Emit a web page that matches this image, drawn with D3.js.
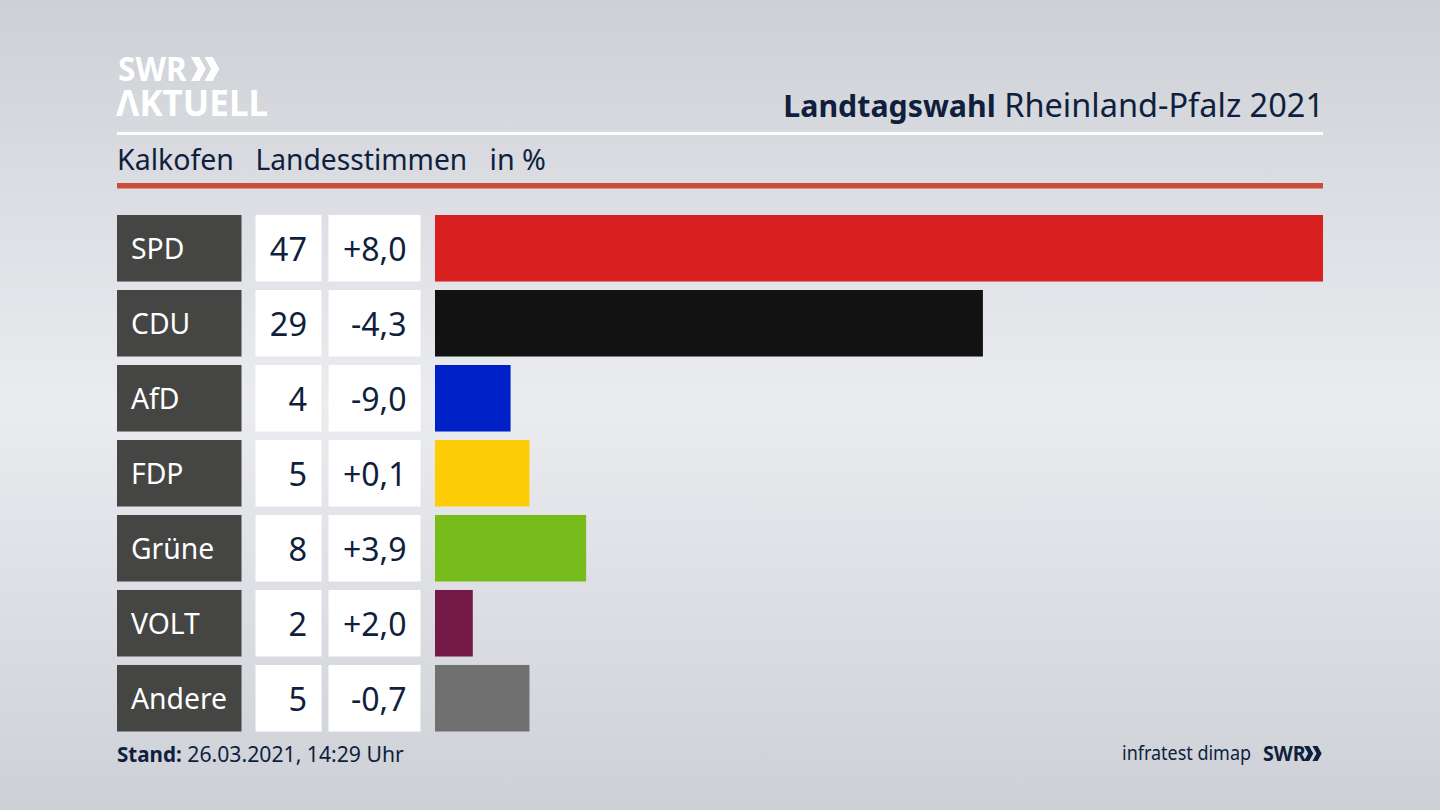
<!DOCTYPE html>
<html>
<head>
<meta charset="utf-8">
<script src="https://cdn.jsdelivr.net/npm/d3@7"></script>
<style>
  html, body { margin: 0; padding: 0; overflow: hidden; }
  text { font-family: "Noto Sans", sans-serif; }
</style>
</head>
<body>
<div id="chart"></div>
<script>
const parties = ["SPD", "CDU", "AfD", "FDP", "Grüne", "VOLT", "Andere"];
const votes = [47, 29, 4, 5, 8, 2, 5];
const changes = [8.0, -4.3, -9.0, 0.1, 3.9, 2.0, -0.7];
const barColors = ["#d7201f", "#121212", "#0020c8", "#ffcc08", "#78bc1b", "#751a46", "#707071"];

const navy = "#0f1f3d";
const width = 1440, height = 810;

const svg = d3.select("#chart").append("svg")
    .attr("width", width)
    .attr("height", height)
    .style("display", "block");

// background
const grad = svg.append("defs").append("linearGradient")
    .attr("id", "bg").attr("x1", 0).attr("x2", 0).attr("y1", 0).attr("y2", 1);
grad.append("stop").attr("offset", "0%").attr("stop-color", "#cdd0d6");
grad.append("stop").attr("offset", "50%").attr("stop-color", "#ebecf0");
grad.append("stop").attr("offset", "100%").attr("stop-color", "#cdd0d6");
svg.append("rect").attr("width", width).attr("height", height).attr("fill", "url(#bg)");

// scales
const y = d3.scaleBand().domain(parties).range([215, 731.5]).paddingInner(0.113);
const x = d3.scaleLinear().domain([0, 47]).range([435, 1323]);
const fmt = d3.formatLocale({ decimal: ",", thousands: ".", grouping: [3], currency: ["", ""], minus: "-" }).format("+.1f");

const rows = svg.selectAll("g.row")
    .data(parties)
    .enter()
    .append("g")
    .attr("class", "row")
    .attr("transform", d => "translate(0," + y(d) + ")");

rows.append("rect").attr("x", 117).attr("width", 124.5).attr("height", y.bandwidth()).attr("fill", "#454543");
rows.append("rect").attr("x", 255.5).attr("width", 66).attr("height", y.bandwidth()).attr("fill", "#fff");
rows.append("rect").attr("x", 328.5).attr("width", 92).attr("height", y.bandwidth()).attr("fill", "#fff");
rows.append("rect")
    .attr("x", x(0))
    .attr("width", (d, i) => x(votes[i]) - x(0))
    .attr("height", y.bandwidth())
    .attr("fill", (d, i) => barColors[i]);

const mid = y.bandwidth() / 2;
rows.append("text")
    .attr("x", 131).attr("y", mid + 10.5)
    .attr("font-size", 28.3).attr("fill", "#fff")
    .text(d => d);
rows.append("text")
    .attr("x", 307).attr("y", mid + 12.5)
    .attr("text-anchor", "end").attr("font-size", 32.5).attr("fill", navy)
    .text((d, i) => votes[i]);
rows.append("text")
    .attr("x", 406.5).attr("y", mid + 12.5)
    .attr("text-anchor", "end").attr("font-size", 32).attr("fill", navy)
    .text((d, i) => fmt(changes[i]));

// header
const chevrons = (g, px, py, h, fill) => {
    const w = h * 0.62, t = h * 0.34;
    [0, 0.56].forEach(k => {
        const a = px + k * h;
        g.append("path")
            .attr("d", `M${a},${py} h${t} L${a + w},${py + h / 2} L${a + t},${py + h} h${-t} L${a + w - t},${py + h / 2} Z`)
            .attr("fill", fill);
    });
};

// narrowed text, squeezed with a transform so its box stays true
const squeezed = (px, py, sx, size, weight, fill, label) => svg.append("text")
    .attr("transform", `translate(${px},${py}) scale(${sx},1)`)
    .attr("font-size", size).attr("font-weight", weight).attr("fill", fill).text(label);

squeezed(118, 81, 0.93, 34, 700, "#fff", "SWR");
chevrons(svg, 191, 57, 24, "#fff");
svg.append("text").attr("x", 116).attr("y", 116)
    .attr("font-size", 35).attr("font-weight", 700).attr("fill", "#fff").text("ΛKTUELL");

const title = svg.append("text").attr("x", 1324).attr("y", 117)
    .attr("text-anchor", "end").attr("fill", navy);
title.append("tspan").attr("font-size", 30.3).attr("font-weight", 700).text("Landtagswahl");
title.append("tspan").attr("font-size", 32.5).text(" Rheinland-Pfalz 2021");

svg.append("rect").attr("x", 117).attr("y", 132).attr("width", 1206).attr("height", 3).attr("fill", "#fff");

[["Kalkofen", 117, 28.5], ["Landesstimmen", 255.5, 28.2], ["in %", 489.5, 28.7]].forEach(s => {
    svg.append("text").attr("x", s[1]).attr("y", 170)
        .attr("font-size", s[2]).attr("fill", navy).text(s[0]);
});

svg.append("rect").attr("x", 117).attr("y", 183).attr("width", 1206).attr("height", 5.5).attr("fill", "#cb4f38");

// footer
const stand = svg.append("text").attr("x", 117).attr("y", 762).attr("fill", navy);
stand.append("tspan").attr("font-size", 20.6).attr("font-weight", 700).text("Stand:");
stand.append("tspan").attr("font-size", 21.2).text(" 26.03.2021, 14:29 Uhr");

squeezed(1122, 760, 0.877, 20.5, 400, navy, "infratest dimap");
squeezed(1263, 761, 0.96, 20.5, 700, navy, "SWR");
chevrons(svg, 1304, 746, 15, navy);
</script>
</body>
</html>
